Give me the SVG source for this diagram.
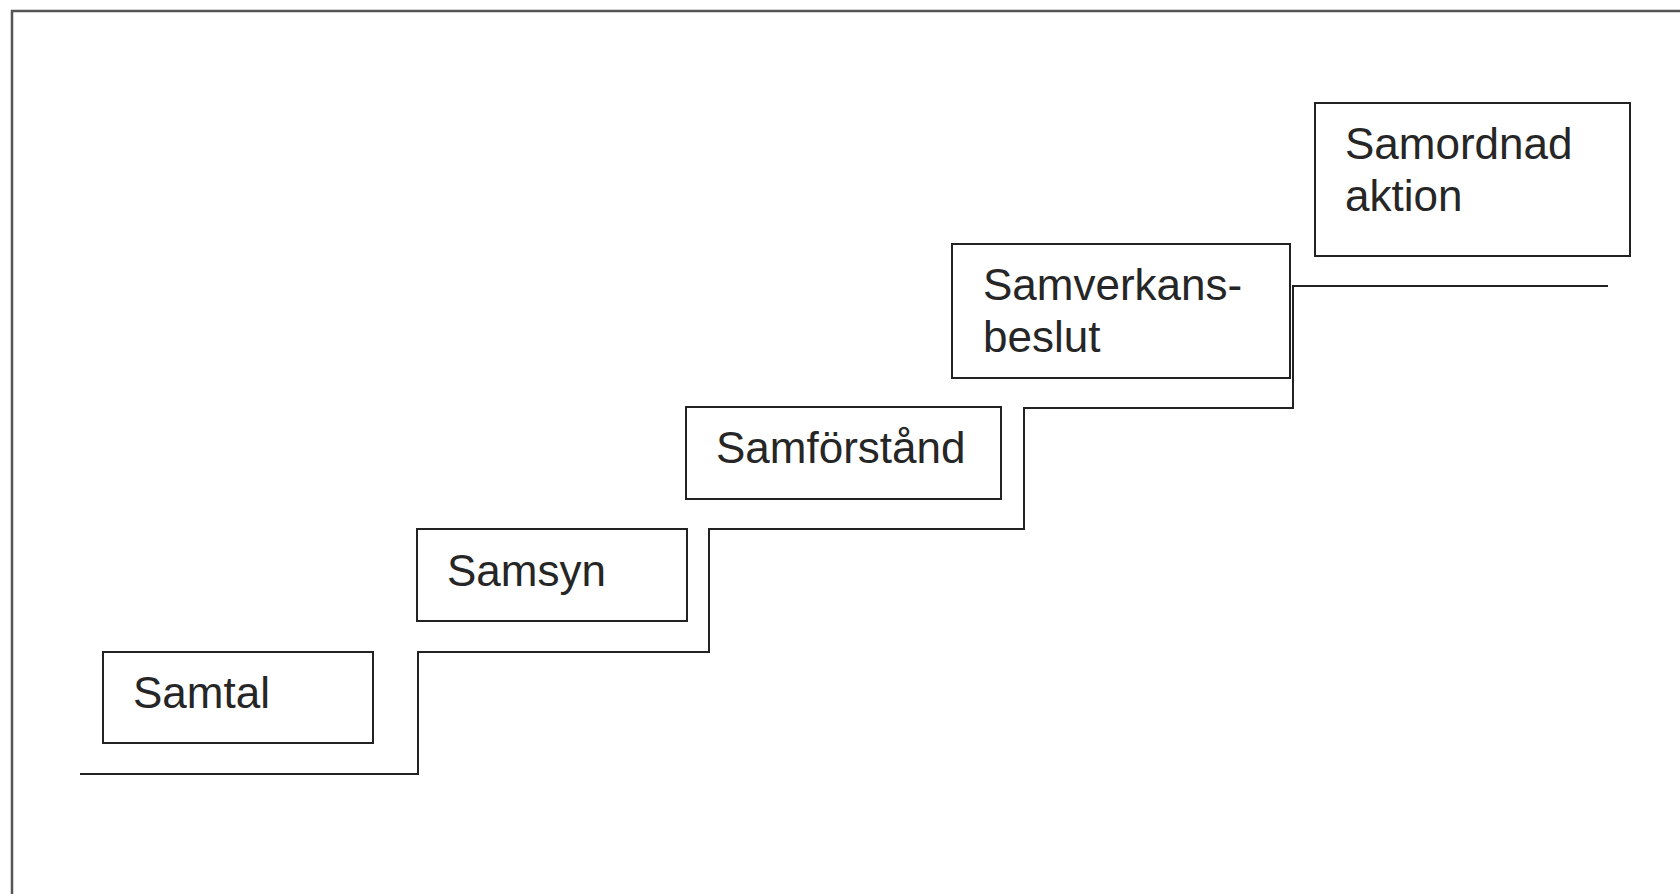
<svg xmlns="http://www.w3.org/2000/svg" width="1680" height="894" viewBox="0 0 1680 894">
<style>
.frame{fill:none;stroke:#555;stroke-width:2.5}
.box{fill:#fff;stroke:#222;stroke-width:2}
.stair{fill:none;stroke:#222;stroke-width:2}
.lbl{font-family:"Liberation Sans",Arial,sans-serif;font-size:44px;fill:#262626}
</style>
<rect width="1680" height="894" fill="#fff"/>
<rect class="frame" x="12" y="11" width="1700" height="910"/>
<g id="connectors">
<path class="stair" d="M80,774 H418 V652 H709 V529 H1024 V408 H1293 V286 H1608"/>
</g>
<g id="samtal">
<rect class="box" x="103" y="652" width="270" height="91"/>
<text class="lbl" x="133" y="708">Samtal</text>
</g>
<g id="samsyn">
<rect class="box" x="417" y="529" width="270" height="92"/>
<text class="lbl" x="447" y="586">Samsyn</text>
</g>
<g id="samforstand">
<rect class="box" x="686" y="407" width="315" height="92"/>
<text class="lbl" x="716" y="463">Samförstånd</text>
</g>
<g id="samverkansbeslut">
<rect class="box" x="952" y="244" width="338" height="134"/>
<text class="lbl" x="983" y="300">Samverkans-</text>
<text class="lbl" x="983" y="352">beslut</text>
</g>
<g id="samordnad">
<rect class="box" x="1315" y="103" width="315" height="153"/>
<text class="lbl" x="1345" y="159">Samordnad</text>
<text class="lbl" x="1345" y="211">aktion</text>
</g>
</svg>
